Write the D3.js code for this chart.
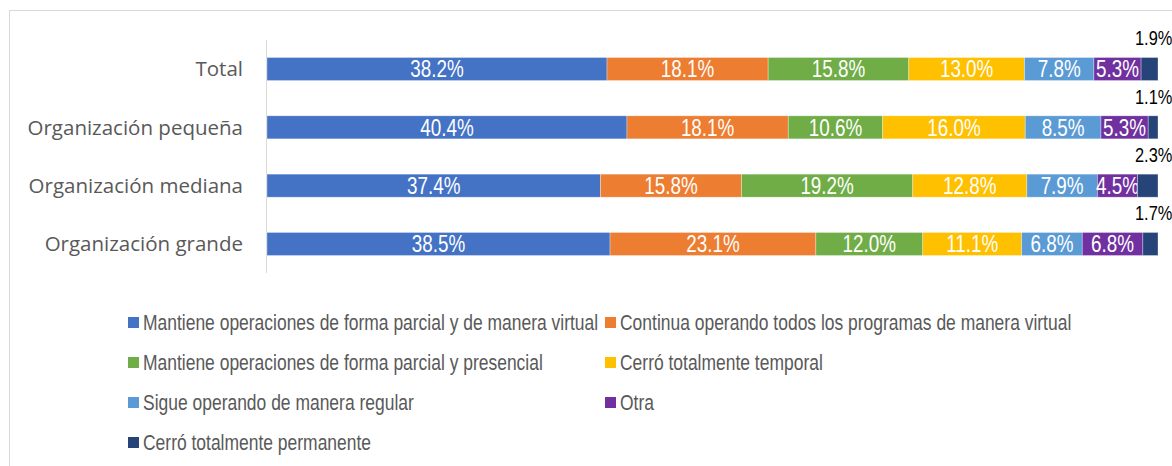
<!DOCTYPE html>
<html>
<head>
<meta charset="utf-8">
<script src="https://cdn.jsdelivr.net/npm/d3@7"></script>
<style>
  body { margin: 0; background: #fff; }
  .narrow { font-family: "Liberation Sans Narrow", "Arial Narrow", "Liberation Sans", Arial, sans-serif; }
</style>
</head>
<body>
<svg id="chart"></svg>
<script>
// categorias (eje vertical)
var categories = ['Total', 'Organización pequeña', 'Organización mediana', 'Organización grande'];

// series, en el orden en que se apilan
var seriesNames = [
  'Mantiene operaciones de forma parcial y de manera virtual',
  'Continua operando todos los programas de manera virtual',
  'Mantiene operaciones de forma parcial y presencial',
  'Cerró totalmente temporal',
  'Sigue operando de manera regular',
  'Otra',
  'Cerró totalmente permanente'
];

var mantieneVirtual    = [38.2, 40.4, 37.4, 38.5];
var continuaVirtual    = [18.1, 18.1, 15.8, 23.1];
var mantienePresencial = [15.8, 10.6, 19.2, 12.0];
var cerroTemporal      = [13.0, 16.0, 12.8, 11.1];
var sigueRegular       = [7.8, 8.5, 7.9, 6.8];
var otra               = [5.3, 5.3, 4.5, 6.8];
var cerroPermanente    = [1.9, 1.1, 2.3, 1.7];

var seriesColors = ['#4472C4', '#ED7D31', '#70AD47', '#FFC000', '#5B9BD5', '#7030A0', '#264478'];

var values = [mantieneVirtual, continuaVirtual, mantienePresencial, cerroTemporal, sigueRegular, otra, cerroPermanente];

var svgwidth = 1172;
var svgheight = 466;

var margins = {
  top: 40,
  bottom: 193,
  left: 267,
  right: 14
};

// no hay Arial Narrow: se estrecha la Liberation Sans
var narrowx = 0.82;
var narrow = function(x, y) {
  return 'translate(' + x + ',' + y + ') scale(' + narrowx + ',1)';
};

var svg = d3.select('#chart').attr('width', svgwidth).attr('height', svgheight);

// marco del grafico (solo se ven borde superior e izquierdo)
svg.append('rect')
   .attr('x', 9.5)
   .attr('y', 10.5)
   .attr('width', svgwidth + 20)
   .attr('height', svgheight + 20)
   .attr('fill', 'none')
   .attr('stroke', '#d9d9d9')
   .attr('stroke-width', 1);

// tabla para d3.stack
var table = categories.map(function(c, i) {
  var row = { cat: c };
  seriesNames.forEach(function(s, j) { row[s] = values[j][i]; });
  return row;
});

var stacked = d3.stack().keys(seriesNames).offset(d3.stackOffsetExpand)(table);

var xscale = d3.scaleLinear().domain([0, 1]).range([margins.left, svgwidth - margins.right]);
var yscale = d3.scaleBand().domain(categories)
               .range([margins.top, svgheight - margins.bottom])
               .paddingInner(0.605).paddingOuter(0.3);

var color = d3.scaleOrdinal().domain(seriesNames).range(seriesColors);

// eje vertical
svg.append('line')
   .attr('x1', margins.left - 0.5).attr('x2', margins.left - 0.5)
   .attr('y1', margins.top).attr('y2', svgheight - margins.bottom)
   .attr('stroke', '#d9d9d9').attr('stroke-width', 1);

svg.selectAll('.catlabel').data(categories).enter().append('text')
   .classed('catlabel', true)
   .attr('x', 243)
   .attr('y', function(d) { return yscale(d) + yscale.bandwidth() / 2; })
   .attr('dy', '0.36em')
   .attr('text-anchor', 'end')
   .style('font-family', '"Open Sans", "Noto Sans", sans-serif')
   .style('font-size', '20.5px')
   .attr('fill', '#595959')
   .text(function(d) { return d; });

var groups = svg.selectAll('.serie').data(stacked).enter().append('g')
   .classed('serie', true)
   .attr('fill', function(d) { return color(d.key); });

groups.selectAll('rect').data(function(d) { return d; }).enter().append('rect')
   .attr('x', function(d) { return xscale(d[0]); })
   .attr('y', function(d) { return yscale(d.data.cat); })
   .attr('width', function(d) { return xscale(d[1]) - xscale(d[0]); })
   .attr('height', yscale.bandwidth())
   .attr('stroke', 'rgba(255,255,255,0.45)')
   .attr('stroke-width', 0.7);

// etiquetas dentro de las barras (todas menos la ultima serie)
groups.filter(function(d, i) { return i < seriesNames.length - 1; })
   .selectAll('.inlabel').data(function(d) {
     return d.map(function(p) { return { p: p, key: d.key }; });
   }).enter().append('text')
   .classed('narrow', true)
   .attr('transform', function(d) {
     return narrow((xscale(d.p[0]) + xscale(d.p[1])) / 2, yscale(d.p.data.cat) + yscale.bandwidth() / 2);
   })
   .attr('dy', '0.36em')
   .attr('text-anchor', 'middle')
   .attr('fill', '#fff')
   .style('font-size', '23px')
   .text(function(d) { return d.p.data[d.key].toFixed(1) + '%'; });

// la ultima serie se etiqueta arriba de la barra
var last = stacked[stacked.length - 1];
svg.selectAll('.outlabel').data(last).enter().append('text')
   .classed('narrow', true)
   .attr('transform', function(d) { return narrow(xscale(1) - 23, yscale(d.data.cat) - 12); })
   .attr('fill', '#000')
   .style('font-size', '20px')
   .text(function(d) { return d.data[last.key].toFixed(1) + '%'; });

// leyenda en dos columnas
var legendcol = [128, 605];
var legendrow = d3.scalePoint().domain([0, 1, 2, 3]).range([322.5, 442.5]);

var legend = svg.selectAll('.legend').data(seriesNames).enter().append('g')
   .classed('legend', true)
   .attr('transform', function(d, i) {
     return 'translate(' + legendcol[i % 2] + ',' + legendrow(Math.floor(i / 2)) + ')';
   });

legend.append('rect')
   .attr('x', 0).attr('y', -5.5)
   .attr('width', 11).attr('height', 11)
   .attr('fill', function(d) { return color(d); });

legend.append('text')
   .classed('narrow', true)
   .attr('transform', narrow(15, 0))
   .attr('dy', '0.35em')
   .attr('fill', '#595959')
   .style('font-size', '21.3px')
   .text(function(d) { return d; });
</script>
</body>
</html>
